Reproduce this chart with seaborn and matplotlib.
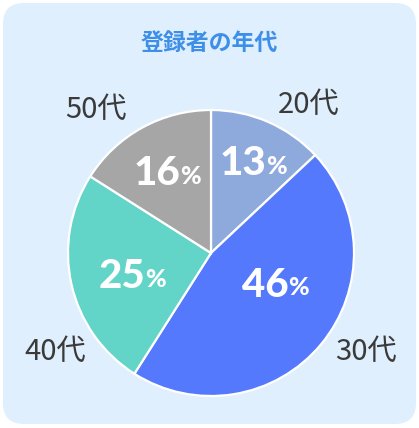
import numpy as np
import matplotlib
matplotlib.use("Agg")
import matplotlib.pyplot as plt
from matplotlib.patches import FancyBboxPatch
import seaborn as sns

# data
ages = ["20代", "30代", "40代", "50代"]
shares = [13, 46, 25, 16]
colors = ["#8eaadc", "#5479fd", "#62d4c8", "#a6a6a6"]
title = "登録者の年代"

# label layout tweaks (radius as fraction of pie radius, angle shift from wedge middle)
pct_radius = [0.69, 0.50, 0.58, 0.64]
pct_shift = [-1.5, 13, 4, 0.5]
name_radius = [1.24, 1.29, 1.29, 1.28]
name_shift = [-10, 7, 20, 10]

sns.set_theme(style="white")
plt.rcParams["font.family"] = ["Noto Sans CJK JP", "DejaVu Sans"]

W, H = 419, 428
fig = plt.figure(figsize=(W / 100, H / 100), dpi=100)
fig.patch.set_facecolor("white")

# rounded light blue panel, kept behind the pie axes
panel = FancyBboxPatch((3 / W, 4 / H), 413 / W, 421 / H,
                       boxstyle="round,pad=0,rounding_size=0.05",
                       transform=fig.transFigure, facecolor="#dfeffd",
                       edgecolor="none", mutation_aspect=W / H, zorder=-10)
fig.patches.append(panel)

fig.text(0.5, 1 - 43 / H, title, ha="center", va="center", fontsize=16.5,
         fontweight="bold", color="#3d8fe8")

cx, cy, R = 211, 253, 143
ax = fig.add_axes([(cx - R) / W, 1 - (cy + R) / H, 2 * R / W, 2 * R / H])
ax.set_facecolor("none")
wedges, _ = ax.pie(shares, colors=colors, startangle=90, counterclock=False,
                   radius=1, wedgeprops=dict(edgecolor="white", linewidth=1.6))
ax.set_xlim(-1, 1)
ax.set_ylim(-1, 1)
ax.axis("off")

for i, w in enumerate(wedges):
    mid = (w.theta1 + w.theta2) / 2
    a = np.deg2rad(mid + pct_shift[i])
    x, y = pct_radius[i] * np.cos(a), pct_radius[i] * np.sin(a)
    num = ax.annotate(str(shares[i]), xy=(x, y), xytext=(-7, 0),
                      textcoords="offset points", ha="center", va="center",
                      fontsize=29, fontweight=900, color="white",
                      family=["Lato", "DejaVu Sans"])
    ax.annotate("%", xy=(1, 0), xycoords=num, xytext=(0, 3),
                textcoords="offset points", ha="left", va="bottom",
                fontsize=18, fontweight=900, color="white",
                family=["Lato", "DejaVu Sans"])

    b = np.deg2rad(mid + name_shift[i])
    ax.text(name_radius[i] * np.cos(b), name_radius[i] * np.sin(b), ages[i],
            ha="center", va="center", fontsize=21, color="#3a3a3a")

fig.savefig("out.png", dpi=100, facecolor="white")
